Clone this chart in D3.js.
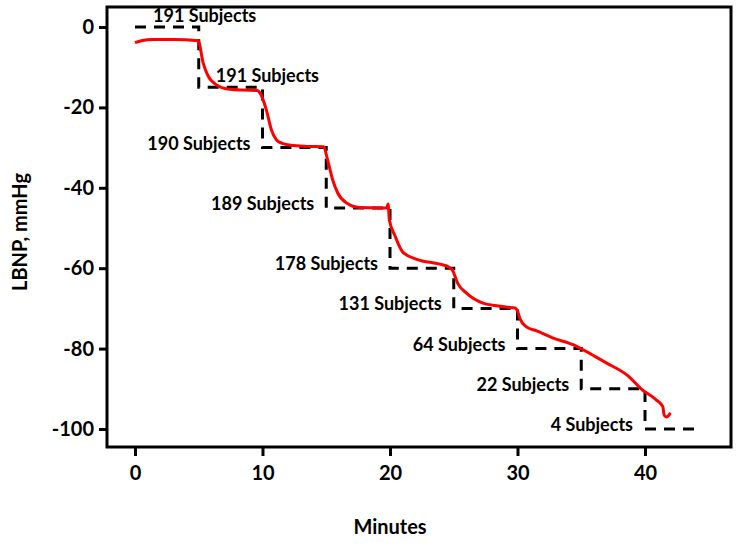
<!DOCTYPE html>
<html>
<head>
<meta charset="utf-8">
<script src="https://cdn.jsdelivr.net/npm/d3@7"></script>
<style>
  body { margin: 0; background: #fff; }
  svg text { font-family: Lato, "Open Sans", sans-serif; font-weight: bold; fill: #000; }
</style>
</head>
<body>
<svg id="chart" width="739" height="546"></svg>
<script>
// protocol steps (minutes, mmHg)
var stepStart = [0, 5, 10, 15, 20, 25, 30, 35, 40]
var stepEnd = [5, 10, 15, 20, 25, 30, 35, 40, 44.4]
var stepLevel = [0, -15, -30, -45, -60, -70, -80, -90, -100]
var subjects = [191, 191, 190, 189, 178, 131, 64, 22, 4]

// mean LBNP trace
var traceTime = [0, 0.5, 1.4, 3, 4.95, 5.35, 5.7, 6.4, 7.45, 8.5, 9.6, 9.8, 10.3, 10.7, 11.1, 11.5,
    12.2, 13.5, 14.8, 15.1, 15.5, 15.9, 16.6, 17.6, 19.2, 19.75, 19.85, 19.95, 20.4, 21, 22.1, 23.9,
    24.6, 24.9, 25.3, 26, 27.3, 28.5, 29.2, 29.8, 30, 30.2, 30.7, 31.5, 32.8, 34.4, 34.9, 36,
    37, 38.6, 39.8, 40.9, 41.4, 41.5, 41.7, 42]
var traceValue = [-3.9, -3.4, -3.1, -3.1, -3.4, -9, -12, -14.4, -15.5, -15.7, -15.8, -16.4, -20.6, -25.6, -28.1, -28.9,
    -29.4, -29.7, -29.8, -33, -38, -41.3, -43.8, -44.9, -45, -45, -44, -48, -52, -56, -57.8, -59,
    -59.7, -60.5, -63.7, -66.2, -68.7, -69.4, -69.7, -69.9, -70.6, -72.6, -74.6, -75.6, -77.4, -79.1, -79.9, -81.8,
    -83.6, -86.6, -90.3, -92.8, -94.5, -96.5, -97, -96]

var xTicks = [0, 10, 20, 30, 40]
var yTicks = [0, -20, -40, -60, -80, -100]

var svg = d3.select("#chart")
var box = { left: 107, top: 7, right: 731, bottom: 447 }

var x = d3.scaleLinear().domain([0, 40]).range([135, 645])
var y = d3.scaleLinear().domain([0, -100]).range([27, 429])

// frame: black box with a white inside, so the border is a fill
svg.append("rect")
    .attr("x", box.left - 1.5).attr("y", box.top - 1.5)
    .attr("width", box.right - box.left + 3).attr("height", box.bottom - box.top + 3)
    .attr("fill", "#000")
svg.append("rect")
    .attr("x", box.left + 1.5).attr("y", box.top + 1.5)
    .attr("width", box.right - box.left - 3).attr("height", box.bottom - box.top - 3)
    .attr("fill", "#fff")

// dashed protocol steps
var stepPts = []
stepStart.forEach(function (s, i) {
    stepPts.push([s, stepLevel[i]])
    stepPts.push([stepEnd[i], stepLevel[i]])
})
var line = d3.line().x(d => x(d[0])).y(d => y(d[1]))

svg.append("path")
    .attr("d", line(stepPts))
    .attr("fill", "none")
    .attr("stroke", "#000")
    .attr("stroke-width", 3)
    .attr("stroke-dasharray", "11,8")

// red trace
var trace = traceTime.map((t, i) => [t, traceValue[i]])
svg.append("path")
    .attr("d", d3.line().x(d => x(d[0])).y(d => y(d[1])).curve(d3.curveMonotoneX)(trace))
    .attr("fill", "none")
    .attr("stroke", "#f00")
    .attr("stroke-width", 3)
    .attr("stroke-linejoin", "round")

// subject labels
svg.append("g").selectAll("text")
    .data(subjects)
    .enter().append("text")
    .attr("font-size", 18)
    .attr("text-anchor", (d, i) => i < 2 ? "start" : "end")
    .attr("x", (d, i) => i == 0 ? x(stepStart[i]) + 18 : i == 1 ? x(stepStart[i]) + 17 : x(stepStart[i]) - 12)
    .attr("y", (d, i) => i < 2 ? y(stepLevel[i]) - 5 : y(stepLevel[i]) + 2)
    .text(d => d + " Subjects")

var yAxis = svg.append("g")
    .attr("transform", "translate(" + box.left + ",0)")
    .call(d3.axisLeft(y).tickValues(yTicks).tickSize(8).tickPadding(5).tickFormat(d => String(d)))
var xAxis = svg.append("g")
    .attr("transform", "translate(0," + box.bottom + ")")
    .call(d3.axisBottom(x).tickValues(xTicks).tickSize(9).tickPadding(10).tickFormat(d => String(d)))

;[xAxis, yAxis].forEach(function (a) {
    a.select(".domain").remove()
    a.selectAll(".tick line").attr("stroke", "#000").attr("stroke-width", 3)
    a.selectAll("text").attr("font-size", 20).attr("font-family", "Lato, sans-serif").attr("font-weight", "bold")
})

svg.append("text")
    .attr("x", x(20)).attr("y", 534)
    .attr("text-anchor", "middle")
    .attr("font-size", 20)
    .text("Minutes")

svg.append("text")
    .attr("transform", "translate(27,232) rotate(-90)")
    .attr("text-anchor", "middle")
    .attr("font-size", 20)
    .text("LBNP, mmHg")
</script>
</body>
</html>
